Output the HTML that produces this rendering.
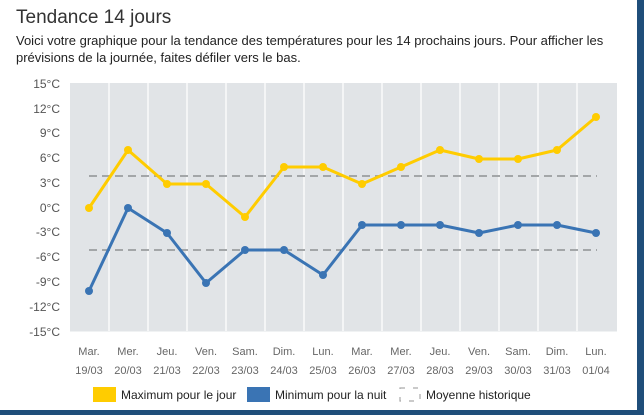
<!DOCTYPE html>
<html><head><meta charset="utf-8"><style>
body{margin:0;width:644px;height:415px;background:#1f4e7a;overflow:hidden;font-family:"Liberation Sans",sans-serif}
.card{position:absolute;left:0;top:0;width:637px;height:410px;background:#fff}
</style></head><body>
<div class="card">
<div style="position:absolute;left:16px;top:7px;font-size:19px;color:#333">Tendance 14 jours</div>
<div style="position:absolute;left:16px;top:32px;width:600px;font-size:13px;line-height:17px;color:#222">Voici votre graphique pour la tendance des températures pour les 14 prochains jours. Pour afficher les prévisions de la journée, faites défiler vers le bas.</div>
<svg width="637" height="410" style="position:absolute;left:0;top:0" font-family="Liberation Sans, sans-serif">
<rect x="70" y="83" width="547" height="248.5" fill="#e1e4e7"/>
<g stroke="#f4f5f6" stroke-width="2">
<line x1="109" y1="83" x2="109" y2="331"/><line x1="148" y1="83" x2="148" y2="331"/><line x1="187" y1="83" x2="187" y2="331"/><line x1="226" y1="83" x2="226" y2="331"/><line x1="265" y1="83" x2="265" y2="331"/><line x1="304" y1="83" x2="304" y2="331"/><line x1="343" y1="83" x2="343" y2="331"/><line x1="382" y1="83" x2="382" y2="331"/><line x1="421" y1="83" x2="421" y2="331"/><line x1="460" y1="83" x2="460" y2="331"/><line x1="499" y1="83" x2="499" y2="331"/><line x1="538" y1="83" x2="538" y2="331"/><line x1="577" y1="83" x2="577" y2="331"/>
</g>
<g font-size="12" fill="#555" text-anchor="end">
<text x="60" y="88">15°C</text><text x="60" y="113">12°C</text><text x="60" y="137">9°C</text><text x="60" y="162">6°C</text><text x="60" y="187">3°C</text><text x="60" y="212">0°C</text><text x="60" y="236">-3°C</text><text x="60" y="261">-6°C</text><text x="60" y="286">-9°C</text><text x="60" y="311">-12°C</text><text x="60" y="336">-15°C</text>
</g>
<g stroke="#a3a6a8" stroke-width="2" stroke-dasharray="8,5">
<line x1="89" y1="176" x2="597" y2="176"/><line x1="89" y1="250" x2="597" y2="250"/>
</g>
<polyline fill="none" stroke="#ffcc00" stroke-width="3" stroke-linejoin="round" points="89,208 128,150 167,184 206,184 245,217 284,167 323,167 362,184 401,167 440,150 479,159 518,159 557,150 596,117"/>
<g fill="#ffcc00"><circle cx="89" cy="208" r="4"/><circle cx="128" cy="150" r="4"/><circle cx="167" cy="184" r="4"/><circle cx="206" cy="184" r="4"/><circle cx="245" cy="217" r="4"/><circle cx="284" cy="167" r="4"/><circle cx="323" cy="167" r="4"/><circle cx="362" cy="184" r="4"/><circle cx="401" cy="167" r="4"/><circle cx="440" cy="150" r="4"/><circle cx="479" cy="159" r="4"/><circle cx="518" cy="159" r="4"/><circle cx="557" cy="150" r="4"/><circle cx="596" cy="117" r="4"/></g>
<polyline fill="none" stroke="#3a74b4" stroke-width="3" stroke-linejoin="round" points="89,291 128,208 167,233 206,283 245,250 284,250 323,275 362,225 401,225 440,225 479,233 518,225 557,225 596,233"/>
<g fill="#3a74b4"><circle cx="89" cy="291" r="4"/><circle cx="128" cy="208" r="4"/><circle cx="167" cy="233" r="4"/><circle cx="206" cy="283" r="4"/><circle cx="245" cy="250" r="4"/><circle cx="284" cy="250" r="4"/><circle cx="323" cy="275" r="4"/><circle cx="362" cy="225" r="4"/><circle cx="401" cy="225" r="4"/><circle cx="440" cy="225" r="4"/><circle cx="479" cy="233" r="4"/><circle cx="518" cy="225" r="4"/><circle cx="557" cy="225" r="4"/><circle cx="596" cy="233" r="4"/></g>
<g font-size="11" fill="#666" text-anchor="middle">
<text x="89" y="355">Mar.</text><text x="128" y="355">Mer.</text><text x="167" y="355">Jeu.</text><text x="206" y="355">Ven.</text><text x="245" y="355">Sam.</text><text x="284" y="355">Dim.</text><text x="323" y="355">Lun.</text><text x="362" y="355">Mar.</text><text x="401" y="355">Mer.</text><text x="440" y="355">Jeu.</text><text x="479" y="355">Ven.</text><text x="518" y="355">Sam.</text><text x="557" y="355">Dim.</text><text x="596" y="355">Lun.</text>
<text x="89" y="374">19/03</text><text x="128" y="374">20/03</text><text x="167" y="374">21/03</text><text x="206" y="374">22/03</text><text x="245" y="374">23/03</text><text x="284" y="374">24/03</text><text x="323" y="374">25/03</text><text x="362" y="374">26/03</text><text x="401" y="374">27/03</text><text x="440" y="374">28/03</text><text x="479" y="374">29/03</text><text x="518" y="374">30/03</text><text x="557" y="374">31/03</text><text x="596" y="374">01/04</text>
</g>
<rect x="93" y="387" width="23" height="15" fill="#ffcc00"/>
<rect x="247" y="387" width="23" height="15" fill="#3a74b4"/>
<rect x="400" y="388" width="20" height="13" fill="none" stroke="#aaa" stroke-width="1.2" stroke-dasharray="5,8"/>
<g font-size="12" fill="#222"><text x="121" y="399">Maximum pour le jour</text><text x="275" y="399">Minimum pour la nuit</text><text x="426" y="399">Moyenne historique</text></g>
</svg>
</div>
</body></html>
